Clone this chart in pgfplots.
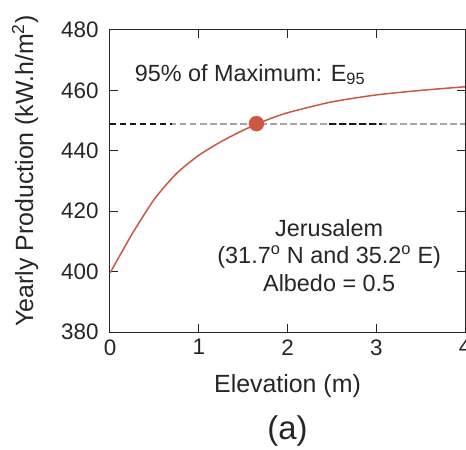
\documentclass[border=0pt]{standalone}
\usepackage{fontspec}
\setmainfont{Liberation Sans}
\usepackage{pgfplots}
\pgfplotsset{compat=1.18}
\definecolor{curvec}{RGB}{204,88,66}
\begin{document}
\begin{tikzpicture}
\begin{axis}[
  name=ax,
  scale only axis,
  width=355bp, height=302bp,
  xmin=0, xmax=4, ymin=380, ymax=480,
  xtick={0,1,2,3,4}, ytick={380,400,...,480},
  tick align=inside,
  major tick length=8bp,
  axis line style={line width=1bp, black!85},
  tick style={line width=1bp, black!85},
  every tick label/.append style={font=\fontsize{22.5}{26}\selectfont, text=black!85},
  xticklabel style={yshift=-4bp},
  yticklabel style={xshift=-8bp},
  /pgf/number format/assume math mode=true,
  xlabel={Elevation (m)},
  ylabel={Yearly Production (kW.h/m\textsuperscript{2})},
  label style={font=\fontsize{25}{30}\selectfont, text=black!85},
  xlabel style={at={(axis description cs:0.5,0)}, anchor=center, yshift=-54bp},
  ylabel style={at={(axis description cs:-0.2394,0.533)}, anchor=center},
  clip=false,
]
\addplot[black!35, line width=1.8bp, dash pattern=on 6.5bp off 3.5bp] coordinates {(0,449) (4,449)};
\addplot[black!90, line width=1.8bp, dash pattern=on 6.5bp off 3.5bp] coordinates {(0,449) (0.7,449)};
\addplot[black!90, line width=1.8bp, dash pattern=on 6.5bp off 3.5bp] coordinates {(2.47,449) (3.07,449)};
\addplot[curvec, line width=1.5bp, smooth, tension=0.4] coordinates {
(0,399.5) (0.25,412.5) (0.5,424) (0.75,432.5) (1,438.5) (1.25,443) (1.5,446.8)
(1.75,450) (2,452.6) (2.5,456.2) (3,458.5) (3.5,460) (4,461.2)};
\addplot[only marks, mark=*, mark size=7.5bp, curvec, mark options={fill=curvec, draw=curvec}] coordinates {(1.65,449)};
\node[anchor=west, font=\fontsize{23.5}{28}\selectfont, text=black!85] at (axis cs:0.24,465.2) {95\% of Maximum: E\textsubscript{95}};
\node[align=center, font=\fontsize{23.5}{28}\selectfont, text=black!85] at (axis cs:2.47,405.3) {Jerusalem\\(31.7\textsuperscript{o} N and 35.2\textsuperscript{o} E)\\Albedo = 0.5};
\end{axis}
\node[font=\fontsize{33}{38}\selectfont, text=black!85] at ([yshift=-99bp]ax.south) {(a)};
\pgfresetboundingbox
\path[use as bounding box] ([xshift=-110bp,yshift=-118bp]ax.south west) rectangle ([xshift=1bp,yshift=30bp]ax.north east);
\end{tikzpicture}
\end{document}
